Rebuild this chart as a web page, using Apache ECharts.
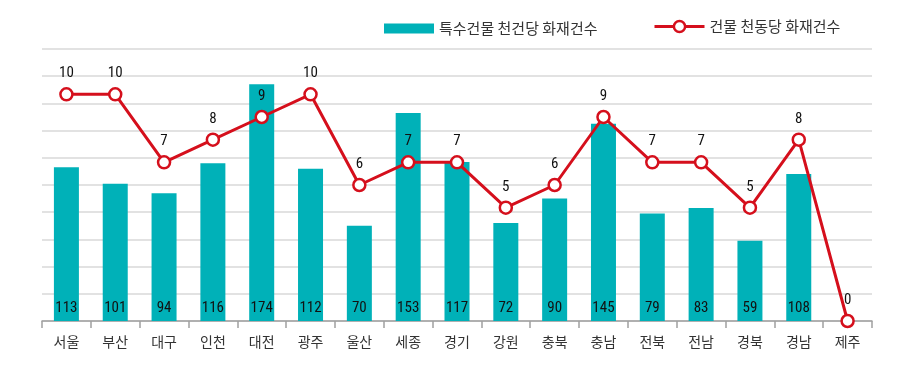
<!DOCTYPE html>
<html><head><meta charset="utf-8">
<script src="https://cdn.jsdelivr.net/npm/echarts@6/dist/echarts.min.js"></script>
<style>html,body{margin:0;padding:0;background:#fff}#c{width:903px;height:385px}</style>
</head><body><div id="c"></div>
<script>
const categories = ['서울','부산','대구','인천','대전','광주','울산','세종','경기','강원','충북','충남','전북','전남','경북','경남','제주'];
const barValues = [113,101,94,116,174,112,70,153,117,72,90,145,79,83,59,108,null];
const lineValues = [10,10,7,8,9,10,6,7,7,5,6,9,7,7,5,8,0];
const barName = '특수건물 천건당 화재건수';
const lineName = '건물 천동당 화재건수';

const numFont = "'Liberation Sans Narrow','Roboto Condensed','Roboto',sans-serif";
const krFont = "'Noto Sans CJK KR','Noto Sans',sans-serif";
const red = '#d50f1c';
const chart = echarts.init(document.getElementById('c'), null, {renderer:'canvas'});
chart.setOption({
  animation:false,
  legend:[
    {left:384, top:21, padding:0, itemWidth:50, itemHeight:10, itemGap:8,
     textStyle:{fontFamily:krFont, fontSize:15, color:'#333'},
     data:[{name:barName, icon:'rect'}]},
    {left:653, top:19, padding:0, itemWidth:50, itemHeight:14, itemGap:8,
     textStyle:{fontFamily:krFont, fontSize:15, color:'#333'},
     lineStyle:{width:3, color:red},
     itemStyle:{color:'#fff', borderColor:red, borderWidth:2.5},
     data:[{name:lineName}]}
  ],
  grid:{left:42, right:31, top:49, bottom:64},
  xAxis:{
    type:'category', data:categories,
    axisLine:{lineStyle:{color:'#a0a0a0', width:1.5}},
    axisTick:{show:true, length:7, lineStyle:{color:'#a0a0a0', width:1.5}},
    axisLabel:{fontFamily:krFont, fontSize:14, color:'#333', margin:14}
  },
  yAxis:[
    {type:'value', min:0, max:200, interval:20, axisLabel:{show:false}, axisLine:{show:false}, axisTick:{show:false},
     splitLine:{lineStyle:{color:'#e2e2e2', width:2}}},
    {type:'value', min:0, max:12, interval:1, axisLabel:{show:false}, axisLine:{show:false}, axisTick:{show:false},
     splitLine:{show:false}}
  ],
  series:[
    {name:barName, type:'bar', data:barValues, barWidth:25, yAxisIndex:0,
     itemStyle:{color:'#00b1b8'},
     label:{show:true, position:'insideBottom', distance:5, fontFamily:numFont, fontSize:15, color:'#111'}},
    {name:lineName, type:'line', data:lineValues, yAxisIndex:1, symbol:'circle', symbolSize:12,
     lineStyle:{color:red, width:3},
     itemStyle:{color:'#fff', borderColor:red, borderWidth:2.5},
     label:{show:true, position:'top', distance:6, fontFamily:numFont, fontSize:15, color:'#111'}}
  ]
});
</script></body></html>
